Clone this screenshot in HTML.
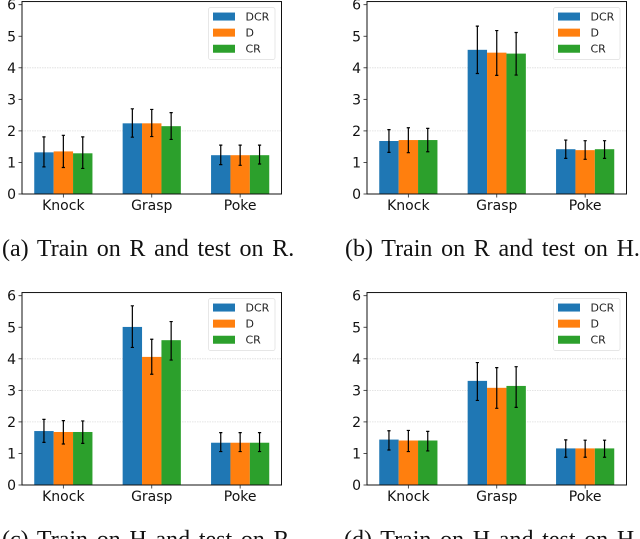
<!DOCTYPE html>
<html lang="en">
<head>
<meta charset="utf-8">
<title>Bar charts</title>
<style>
html,body{margin:0;padding:0;background:#fff;width:640px;height:539px;overflow:hidden}
svg{display:block;filter:blur(0.35px)}
.tick{font-family:"DejaVu Sans",sans-serif;font-size:14px;fill:#111}
.leg{font-family:"DejaVu Sans",sans-serif;font-size:11px;fill:#222}
.cap{font-family:"Liberation Serif",serif;font-size:24px;word-spacing:2.7px;fill:#111}
</style>
</head>
<body>
<svg id="figure" xmlns="http://www.w3.org/2000/svg" width="640" height="539" viewBox="0 0 640 539">
  <text class="cap" x="2" y="256">(a) Train on R and test on R.</text>
  <text class="cap" x="345" y="256">(b) Train on R and test on H.</text>
  <text class="cap" x="2" y="547">(c) Train on H and test on R.</text>
  <text class="cap" x="344" y="547">(d) Train on H and test on H.</text>
</svg>
<script>
const categories = ['Knock', 'Grasp', 'Poke'];
const seriesNames = ['DCR', 'D', 'CR'];
const yTicks = [0, 1, 2, 3, 4, 5, 6];

const panelIds = ['a', 'b', 'c', 'd'];

const aDCR = [1.32, 2.24, 1.23];
const aD = [1.35, 2.24, 1.23];
const aCR = [1.29, 2.15, 1.23];
const aLow = [[0.86, 1.80, 0.93], [0.84, 1.82, 0.91], [0.81, 1.73, 0.95]];
const aHigh = [[1.81, 2.70, 1.55], [1.86, 2.68, 1.55], [1.81, 2.58, 1.55]];
const aGrid = [2, 4];

const bDCR = [1.68, 4.57, 1.42];
const bD = [1.71, 4.48, 1.39];
const bCR = [1.71, 4.45, 1.42];
const bLow = [[1.32, 3.82, 1.13], [1.31, 3.76, 1.10], [1.34, 3.77, 1.13]];
const bHigh = [[2.04, 5.32, 1.71], [2.10, 5.18, 1.69], [2.08, 5.12, 1.69]];
const bGrid = [2, 4];

const cDCR = [1.71, 5.01, 1.34];
const cD = [1.68, 4.06, 1.34];
const cCR = [1.68, 4.59, 1.34];
const cLow = [[1.35, 4.36, 1.06], [1.30, 3.51, 1.06], [1.32, 3.96, 1.06]];
const cHigh = [[2.08, 5.68, 1.66], [2.04, 4.62, 1.66], [2.03, 5.18, 1.66]];
const cGrid = [2, 3, 4];

const dDCR = [1.44, 3.30, 1.16];
const dD = [1.41, 3.08, 1.16];
const dCR = [1.41, 3.14, 1.16];
const dLow = [[1.11, 2.68, 0.88], [1.06, 2.43, 0.88], [1.08, 2.46, 0.88]];
const dHigh = [[1.72, 3.88, 1.43], [1.73, 3.72, 1.42], [1.70, 3.75, 1.42]];
const dGrid = [2, 3, 4];

const panelValues = [[aDCR, aD, aCR], [bDCR, bD, bCR], [cDCR, cD, cCR], [dDCR, dD, dCR]];
const panelLow = [aLow, bLow, cLow, dLow];
const panelHigh = [aHigh, bHigh, cHigh, dHigh];
const panelGrid = [aGrid, bGrid, cGrid, dGrid];

const colors = ['#1f77b4', '#ff7f0e', '#2ca02c'];
const svg = document.getElementById('figure');
const NS = 'http://www.w3.org/2000/svg';

function mk(tag, attrs, parent) {
  const el = document.createElementNS(NS, tag);
  for (const k in attrs) el.setAttribute(k, attrs[k]);
  parent.appendChild(el);
  return el;
}

function drawPanel(idx, left, baseY) {
  const id = panelIds[idx];
  const width = 259.5;
  const unit = 31.55;
  const yMax = 6.1;
  const barW = 19.4;
  const groupGap = 88.4;
  const g = mk('g', {}, svg);
  
  
  const y = v => baseY - v * unit;
  const cx = i => left + width / 2 + (i - (categories.length - 1) / 2) * groupGap;

  panelGrid[idx].forEach(v => {
    const line = mk('line', {x1: left, x2: left + width, y1: y(v), y2: y(v), stroke: '#dcdcdc', 'stroke-width': 0.8, 'stroke-dasharray': '1.5 1'}, g);
    
    
  });

  seriesNames.forEach((name, s) => {
    categories.forEach((cat, i) => {
      const x = cx(i) + (s - 1.5) * barW;
      const rect = mk('rect', {x: x, y: y(panelValues[idx][s][i]), width: barW, height: panelValues[idx][s][i] * unit, fill: colors[s]}, g);
      
      
    });
  });

  seriesNames.forEach((name, s) => {
    categories.forEach((cat, i) => {
      const x = cx(i) + (s - 1) * barW;
      const lo = y(panelLow[idx][s][i]);
      const hi = y(panelHigh[idx][s][i]);
      const err = mk('path', {d: 'M' + x + ' ' + lo + 'V' + hi + 'M' + (x - 1.6) + ' ' + lo + 'h3.2M' + (x - 1.6) + ' ' + hi + 'h3.2', stroke: '#000', 'stroke-width': 1.2, fill: 'none'}, g);
      
      
    });
  });

  const frame = mk('rect', {x: left, y: y(yMax), width: width, height: yMax * unit, fill: 'none', stroke: '#111', 'stroke-width': 1}, g);
  
  

  yTicks.forEach(v => {
    const t = mk('line', {x1: left - 3.5, x2: left, y1: y(v), y2: y(v), stroke: '#222', 'stroke-width': 0.8}, g);
    
    
    const lbl = mk('text', {x: left - 6, y: y(v) + 5, 'text-anchor': 'end', class: 'tick'}, g);
    lbl.textContent = v;
    
    
  });

  categories.forEach((cat, i) => {
    const t = mk('line', {x1: cx(i), x2: cx(i), y1: baseY, y2: baseY + 3.5, stroke: '#222', 'stroke-width': 0.8}, g);
    
    
    const lbl = mk('text', {x: cx(i), y: baseY + 16, 'text-anchor': 'middle', class: 'tick'}, g);
    lbl.textContent = cat;
    
    
  });

  const topY = y(yMax);
  const legX = left + 186.5;
  const legend = mk('g', {}, g);
  
  
  const box = mk('rect', {x: legX, y: topY + 6, width: 66.5, height: 52, rx: 2, fill: '#fff', stroke: '#e2e2e2', 'stroke-width': 0.8}, legend);
  
  
  seriesNames.forEach((name, s) => {
    const rowY = topY + 15 + s * 16.1;
    const sw = mk('rect', {x: legX + 4.5, y: rowY - 4, width: 22, height: 8, fill: colors[s]}, legend);
    
    
    const tx = mk('text', {x: legX + 37, y: rowY + 4, class: 'leg'}, legend);
    tx.textContent = name;
    
    
  });
}

drawPanel(0, 22, 194);
drawPanel(1, 367, 194);
drawPanel(2, 22, 485);
drawPanel(3, 367, 485);
</script>
</body>
</html>
